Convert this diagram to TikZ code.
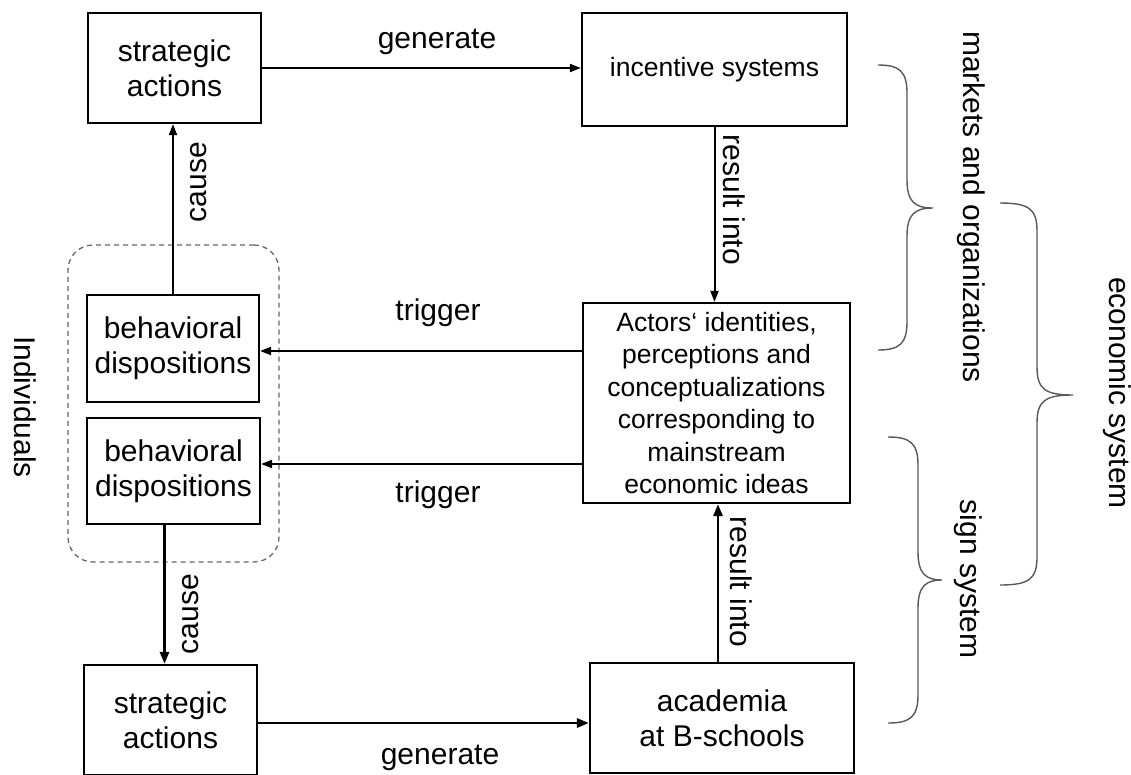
\documentclass[tikz,border=0pt]{standalone}
\usepackage{fontspec}
\setmainfont{Liberation Sans}
\usetikzlibrary{arrows.meta,calc}
\newcommand\mybrace[6]{% x0 xv xtip ytop ymid ybot
 \draw[bracestyle] (#1,#4) .. controls (#2-8,#4) and (#2,#4+6) .. (#2,#4+28) -- (#2,#5-28) .. controls (#2,#5-6) and (#2+8,#5) .. (#3,#5) .. controls (#2+8,#5) and (#2,#5+6) .. (#2,#5+28) -- (#2,#6-28) .. controls (#2,#6-6) and (#2-8,#6) .. (#1,#6);}
\begin{document}
\begin{tikzpicture}[x=1pt,y=-1pt,
  every node/.style={font=\fontsize{30}{35}\selectfont, inner sep=0pt},
  box/.style={draw, line width=2.2pt, align=center},
  arr/.style={line width=2pt, -{Triangle[length=11pt,width=8pt]}},
  arrb/.style={line width=2.8pt, -{Triangle[length=12pt,width=9pt]}},
  bracestyle/.style={draw=black!65, line width=1.4pt},
  grp/.style={draw=black!60, dash pattern=on 5pt off 4pt, line width=1.3pt, rounded corners=25pt}]
\useasboundingbox (0,0) rectangle (1131,774);
\fill[white] (0,0) rectangle (1131,774);

\node[grp, minimum width=211pt, minimum height=317pt] (IND) at (173.5,403.5) {};

\node[box, minimum width=173pt, minimum height=110pt] (SA1) at (174.5,68) {strategic\\actions};
\node[box, minimum width=265pt, minimum height=113pt, font=\fontsize{26.5}{32}\selectfont] (IS) at (714.5,69.5) {incentive systems};
\node[box, minimum width=267pt, minimum height=200pt, font=\fontsize{26.5}{32.4}\selectfont] (ACT) at (716.5,403) {Actors‘ identities,\\perceptions and\\conceptualizations\\corresponding to\\mainstream\\economic ideas};
\node[box, minimum width=172pt, minimum height=107pt] (BD1) at (173,348.5) {behavioral\\dispositions};
\node[box, minimum width=173pt, minimum height=106pt] (BD2) at (173.5,471) {behavioral\\dispositions};
\node[box, minimum width=173pt, minimum height=110pt] (SA2) at (170.5,720) {strategic\\actions};
\node[box, minimum width=264pt, minimum height=110pt] (AC) at (722,718) {academia\\at B-schools};

\draw[arr] (SA1.east) -- (SA1.east -| IS.west);
\draw[arr] (IS.south) -- (IS.south |- ACT.north);
\draw[arr] (BD1.north) -- (BD1.north |- SA1.south);
\coordinate (t1) at ([yshift=-2.5pt]BD1.east);
\draw[arr] (ACT.west |- t1) -- (t1);
\coordinate (t2) at ([yshift=7pt]BD2.east);
\draw[arr] (ACT.west |- t2) -- (t2);
\coordinate (c2) at ([xshift=-9pt]BD2.south);
\draw[arrb] (c2) -- (c2 |- SA2.north);
\coordinate (g2) at ([yshift=-3pt]SA2.east);
\draw[arrb] (g2) -- (g2 -| AC.west);
\coordinate (r2) at ([xshift=-4pt]AC.north);
\draw[arrb] (r2) -- (r2 |- ACT.south);

\node (gen1) at (437,42) {generate};
\node (gen2) at (440,758) {generate};
\node (trg1) at (438,313) {trigger};
\node (trg2) at (438,495) {trigger};
\node[rotate=90] (cau1) at (199,182) {cause};
\node[rotate=90] (cau2) at (191,614) {cause};
\node[rotate=-90] (res1) at (734,200) {result into};
\node[rotate=-90] (res2) at (741,582) {result into};
\node[rotate=-90] (indiv) at (25,407) {Individuals};
\node[rotate=-90] (mo) at (971,207) {markets and organizations};
\node[rotate=-90] (es) at (1117,393) {economic system};
\node[rotate=-90] (ss) at (968,579) {sign system};

\mybrace{878}{907}{933}{65}{208}{350}
\mybrace{1000}{1037}{1073}{203}{395}{585}
\mybrace{888}{918}{942}{437}{580}{723}
\end{tikzpicture}
\end{document}
